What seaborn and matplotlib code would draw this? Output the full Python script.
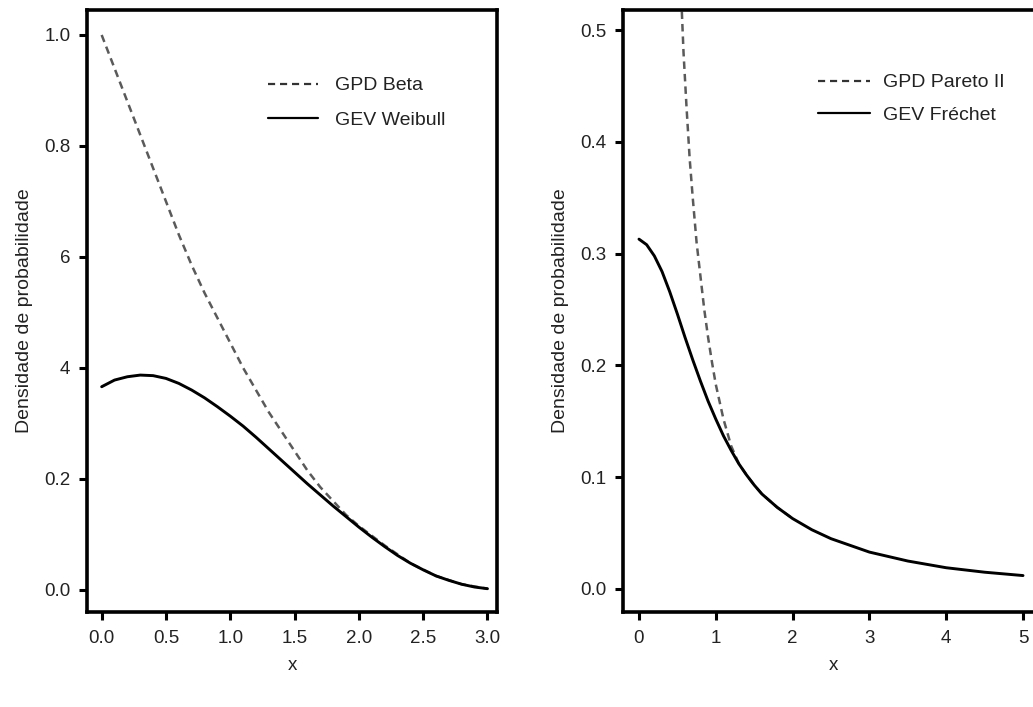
import numpy as np
import pandas as pd
import matplotlib
matplotlib.use("Agg")
import matplotlib.pyplot as plt
import seaborn as sns

# ---- data ----
gpd_beta_x = [0.0, 0.1, 0.2, 0.3, 0.4, 0.5, 0.6, 0.7, 0.8, 0.9, 1.0, 1.1, 1.2, 1.3, 1.4,
              1.5, 1.6, 1.7, 1.8, 1.9, 2.0, 2.2, 2.4, 2.6, 2.8, 3.0]
gpd_beta_y = [1.0, 0.94, 0.88, 0.82, 0.76, 0.70, 0.64, 0.585, 0.535, 0.49, 0.445, 0.40, 0.36,
              0.32, 0.285, 0.25, 0.215, 0.185, 0.16, 0.135, 0.115, 0.08, 0.048, 0.025, 0.01, 0.002]

gev_weibull_x = [0.0, 0.1, 0.2, 0.3, 0.4, 0.5, 0.6, 0.7, 0.8, 0.9, 1.0, 1.1, 1.2, 1.3, 1.4, 1.5,
                 1.6, 1.7, 1.8, 1.9, 2.0, 2.1, 2.2, 2.3, 2.4, 2.5, 2.6, 2.7, 2.8, 2.9, 3.0]
gev_weibull_y = [0.366, 0.378, 0.384, 0.387, 0.386, 0.381, 0.372, 0.360, 0.346, 0.330, 0.313,
                 0.295, 0.275, 0.254, 0.233, 0.212, 0.191, 0.171, 0.151, 0.132, 0.113, 0.095,
                 0.078, 0.062, 0.048, 0.036, 0.025, 0.017, 0.010, 0.005, 0.002]

gpd_pareto_x = [0.55, 0.58, 0.62, 0.66, 0.70, 0.75, 0.80, 0.85, 0.90, 0.95, 1.0, 1.1, 1.2,
                1.3, 1.4, 1.5, 1.6, 1.8, 2.0]
gpd_pareto_y = [0.53, 0.48, 0.43, 0.385, 0.35, 0.31, 0.28, 0.25, 0.225, 0.203, 0.183, 0.152,
                0.128, 0.112, 0.102, 0.093, 0.085, 0.073, 0.063]

gev_frechet_x = [0.0, 0.1, 0.2, 0.3, 0.4, 0.5, 0.6, 0.7, 0.8, 0.9, 1.0, 1.1, 1.2, 1.3, 1.4,
                 1.5, 1.6, 1.8, 2.0, 2.25, 2.5, 2.75, 3.0, 3.5, 4.0, 4.5, 5.0]
gev_frechet_y = [0.313, 0.308, 0.298, 0.284, 0.266, 0.246, 0.225, 0.205, 0.186, 0.168, 0.152,
                 0.137, 0.124, 0.112, 0.102, 0.093, 0.085, 0.073, 0.063, 0.053, 0.045, 0.039,
                 0.033, 0.025, 0.019, 0.015, 0.012]

left_yticks = [0.0, 0.2, 0.4, 0.6, 0.8, 1.0]
left_yticklabels = ["0.0", "0.2", "4", "6", "0.8", "1.0"]
left_xticks = [0.0, 0.5, 1.0, 1.5, 2.0, 2.5, 3.0]
left_xticklabels = ["0.0", "0.5", "1.0", "1.5", "2.0", "2.5", "3.0"]
right_yticks = [0.0, 0.1, 0.2, 0.3, 0.4, 0.5]
right_yticklabels = ["0.0", "0.1", "0.2", "0.3", "0.4", "0.5"]
right_xticks = [0, 1, 2, 3, 4, 5]
right_xticklabels = ["0", "1", "2", "3", "4", "5"]

ylabel = "Densidade de probabilidade"
xlabel = "x"

# ---- style ----
sns.set_style("white")
plt.rcParams["font.family"] = ["Liberation Sans", "DejaVu Sans"]
FS = 13.5
LFS = 14
plt.rcParams["font.size"] = FS
TXT = "#222222"

fig = plt.figure(figsize=(10.33, 7.07), dpi=100)
W, H = 1033, 707
axL = fig.add_axes([87 / W, 1 - 612 / H, 410 / W, 602 / H])
axR = fig.add_axes([623 / W, 1 - 612 / H, 420 / W, 602 / H])

dash_color = "#5a5a5a"
dashes = (3.0, 2.0)


def draw(ax, dx, dy, dlabel, sx, sy, slabel):
    ddf = pd.DataFrame({"x": dx, "y": dy})
    sdf = pd.DataFrame({"x": sx, "y": sy})
    sns.lineplot(data=ddf, x="x", y="y", ax=ax, color=dash_color, lw=1.8,
                 label=dlabel, sort=False)
    ax.lines[-1].set_dashes(dashes)
    sns.lineplot(data=sdf, x="x", y="y", ax=ax, color="black", lw=2.1,
                 label=slabel, sort=False)


draw(axL, gpd_beta_x, gpd_beta_y, "GPD Beta", gev_weibull_x, gev_weibull_y, "GEV Weibull")
draw(axR, gpd_pareto_x, gpd_pareto_y, "GPD Pareto II", gev_frechet_x, gev_frechet_y, "GEV Fréchet")

axL.set_xlim(-0.114, 3.074)
axL.set_ylim(-0.040, 1.045)
axR.set_xlim(-0.208, 5.26)
axR.set_ylim(-0.0206, 0.518)

for ax, xt, xtl, yt, ytl in [
    (axL, left_xticks, left_xticklabels, left_yticks, left_yticklabels),
    (axR, right_xticks, right_xticklabels, right_yticks, right_yticklabels),
]:
    ax.set_xticks(xt)
    ax.set_xticklabels(xtl)
    ax.set_yticks(yt)
    ax.set_yticklabels(ytl)
    ax.tick_params(axis="both", which="major", bottom=True, left=True, top=False, right=False,
                   direction="out", length=6, width=2.2, color="black",
                   labelsize=FS, labelcolor=TXT)
    ax.tick_params(axis="x", pad=7)
    ax.tick_params(axis="y", pad=6)
    for s in ax.spines.values():
        s.set_linewidth(2.6)
        s.set_color("black")
    ax.set_xlabel(xlabel, fontsize=FS, color=TXT, labelpad=7)
    ax.set_ylabel(ylabel, fontsize=LFS, color=TXT, labelpad=8)
    ax.grid(False)

legL = axL.legend(loc="upper left", bbox_to_anchor=(0.441, 0.889), frameon=False,
                  handlelength=2.6, handletextpad=0.85, labelspacing=0.87,
                  fontsize=LFS, borderaxespad=0, borderpad=0)
legR = axR.legend(loc="upper left", bbox_to_anchor=(0.464, 0.894), frameon=False,
                  handlelength=2.7, handletextpad=0.65, labelspacing=0.77,
                  fontsize=LFS, borderaxespad=0, borderpad=0)
for leg in (legL, legR):
    for t in leg.get_texts():
        t.set_color(TXT)
    hl = leg.get_lines()
    hl[0].set_dashes((3.2, 2.2))
    hl[0].set_color("#333333")
    hl[0].set_linewidth(1.6)
    hl[1].set_linewidth(1.6)

fig.savefig("out.png", dpi=100)
